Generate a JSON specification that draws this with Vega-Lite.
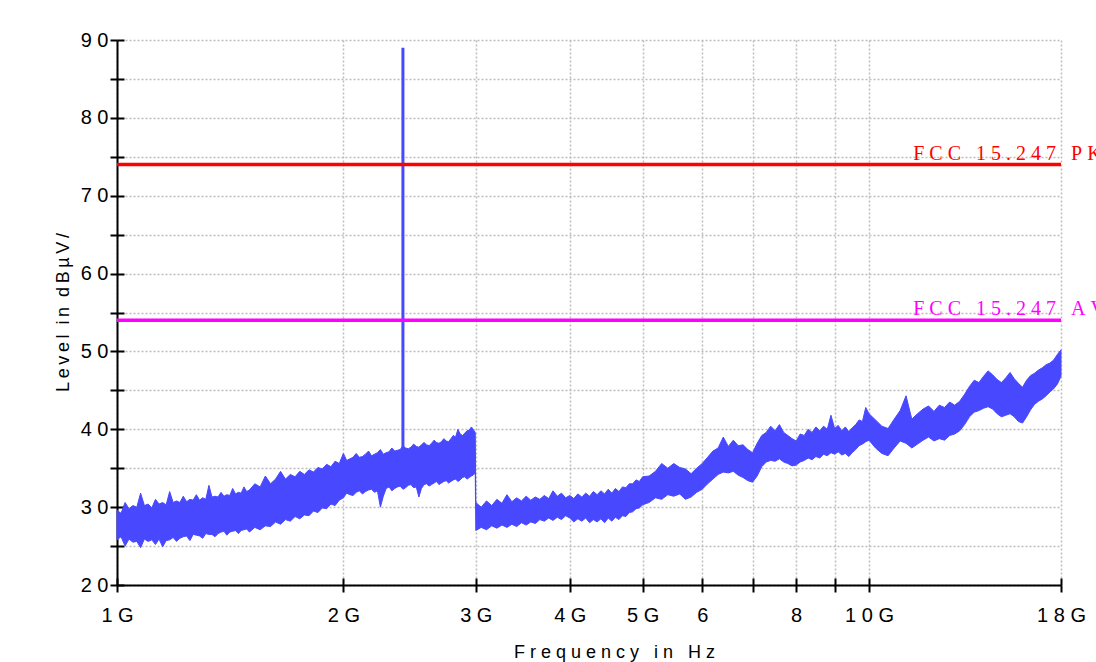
{
  "$schema": "https://vega.github.io/schema/vega-lite/v6.json",
  "width": 944,
  "height": 545,
  "autosize": {"type": "none"},
  "padding": {"left": 117, "top": 40, "right": 35, "bottom": 77},
  "background": "white",
  "config": {"view": {"stroke": null}, "font": "Liberation Sans"},
  "datasets": {
    "trace": [
      {"f":1.000,"lo":25.8,"hi":29.6},{"f":1.0125,"lo":26.2,"hi":29.2},{"f":1.025,"lo":25.0,"hi":30.6},{"f":1.0375,"lo":25.9,"hi":29.8},
      {"f":1.050,"lo":25.5,"hi":30.2},{"f":1.0625,"lo":25.6,"hi":30.0},{"f":1.075,"lo":24.8,"hi":31.8},{"f":1.0875,"lo":25.9,"hi":30.2},
      {"f":1.100,"lo":25.6,"hi":30.4},{"f":1.1125,"lo":25.8,"hi":29.9},{"f":1.125,"lo":25.2,"hi":31.0},{"f":1.1375,"lo":25.9,"hi":30.4},
      {"f":1.150,"lo":24.9,"hi":30.6},{"f":1.1625,"lo":25.7,"hi":30.3},{"f":1.175,"lo":25.8,"hi":32.0},{"f":1.1875,"lo":26.1,"hi":30.6},
      {"f":1.200,"lo":25.6,"hi":30.8},{"f":1.2125,"lo":26.0,"hi":30.6},{"f":1.225,"lo":26.2,"hi":31.4},{"f":1.2375,"lo":26.3,"hi":30.7},
      {"f":1.250,"lo":25.7,"hi":31.0},{"f":1.2625,"lo":26.5,"hi":30.9},{"f":1.275,"lo":26.4,"hi":31.6},{"f":1.2875,"lo":26.3,"hi":30.9},
      {"f":1.300,"lo":26.0,"hi":31.2},{"f":1.3125,"lo":26.6,"hi":31.0},{"f":1.325,"lo":26.5,"hi":32.8},{"f":1.3375,"lo":26.5,"hi":31.3},
      {"f":1.350,"lo":26.2,"hi":31.4},{"f":1.3625,"lo":26.6,"hi":31.3},{"f":1.375,"lo":26.8,"hi":31.9},{"f":1.3875,"lo":26.9,"hi":31.4},
      {"f":1.400,"lo":26.4,"hi":31.6},{"f":1.4125,"lo":26.8,"hi":31.5},{"f":1.425,"lo":26.9,"hi":32.4},{"f":1.4375,"lo":27.0,"hi":31.7},
      {"f":1.450,"lo":26.6,"hi":31.9},{"f":1.4625,"lo":27.0,"hi":31.8},{"f":1.475,"lo":27.1,"hi":32.6},{"f":1.4875,"lo":27.2,"hi":32.0},
      {"f":1.500,"lo":26.8,"hi":32.2},{"f":1.525,"lo":27.4,"hi":33.0},{"f":1.550,"lo":27.1,"hi":32.6},{"f":1.575,"lo":27.6,"hi":34.0},
      {"f":1.600,"lo":27.5,"hi":33.0},{"f":1.625,"lo":28.1,"hi":33.6},{"f":1.650,"lo":27.8,"hi":34.6},{"f":1.675,"lo":28.4,"hi":33.6},
      {"f":1.700,"lo":28.2,"hi":34.2},{"f":1.725,"lo":28.8,"hi":33.9},{"f":1.750,"lo":28.5,"hi":34.6},{"f":1.775,"lo":29.0,"hi":34.2},
      {"f":1.800,"lo":28.9,"hi":34.8},{"f":1.825,"lo":29.5,"hi":34.5},{"f":1.850,"lo":29.3,"hi":35.1},{"f":1.875,"lo":29.9,"hi":34.9},
      {"f":1.900,"lo":29.8,"hi":35.5},{"f":1.925,"lo":30.4,"hi":35.2},{"f":1.950,"lo":30.2,"hi":35.9},{"f":1.975,"lo":30.9,"hi":35.6},
      {"f":2.000,"lo":31.2,"hi":36.9},{"f":2.02,"lo":31.8,"hi":36.0},{"f":2.04,"lo":31.6,"hi":36.2},{"f":2.06,"lo":31.5,"hi":36.4},
      {"f":2.08,"lo":31.9,"hi":36.9},{"f":2.10,"lo":32.1,"hi":36.4},{"f":2.12,"lo":31.7,"hi":36.5},{"f":2.14,"lo":32.0,"hi":36.8},
      {"f":2.16,"lo":32.2,"hi":37.2},{"f":2.18,"lo":32.3,"hi":36.6},{"f":2.20,"lo":31.9,"hi":36.8},{"f":2.22,"lo":32.1,"hi":37.0},
      {"f":2.24,"lo":30.0,"hi":37.4},{"f":2.26,"lo":31.4,"hi":36.8},{"f":2.28,"lo":32.4,"hi":37.0},{"f":2.30,"lo":32.6,"hi":37.1},
      {"f":2.32,"lo":32.1,"hi":37.6},{"f":2.34,"lo":32.4,"hi":37.2},{"f":2.36,"lo":32.6,"hi":37.3},{"f":2.38,"lo":32.7,"hi":37.4},
      {"f":2.40,"lo":32.3,"hi":37.9},{"f":2.42,"lo":32.5,"hi":37.6},{"f":2.44,"lo":32.8,"hi":37.5},{"f":2.46,"lo":32.9,"hi":37.7},
      {"f":2.48,"lo":32.5,"hi":38.1},{"f":2.50,"lo":32.6,"hi":37.8},{"f":2.52,"lo":31.3,"hi":37.7},{"f":2.54,"lo":32.4,"hi":38.0},
      {"f":2.56,"lo":32.9,"hi":38.3},{"f":2.58,"lo":33.0,"hi":38.0},{"f":2.60,"lo":32.7,"hi":37.9},{"f":2.62,"lo":32.9,"hi":38.2},
      {"f":2.64,"lo":33.1,"hi":38.6},{"f":2.66,"lo":33.3,"hi":38.3},{"f":2.68,"lo":32.9,"hi":38.2},{"f":2.70,"lo":33.1,"hi":38.4},
      {"f":2.72,"lo":33.3,"hi":38.8},{"f":2.74,"lo":33.4,"hi":38.5},{"f":2.76,"lo":33.1,"hi":38.4},{"f":2.78,"lo":33.3,"hi":38.8},
      {"f":2.80,"lo":33.5,"hi":39.2},{"f":2.82,"lo":33.6,"hi":39.0},{"f":2.84,"lo":33.3,"hi":40.0},{"f":2.86,"lo":33.5,"hi":39.4},
      {"f":2.88,"lo":33.8,"hi":39.2},{"f":2.90,"lo":33.9,"hi":39.5},{"f":2.92,"lo":33.6,"hi":39.8},{"f":2.94,"lo":33.8,"hi":39.9},
      {"f":2.96,"lo":34.0,"hi":40.3},{"f":2.975,"lo":34.1,"hi":40.0},{"f":2.995,"lo":34.4,"hi":39.6},
      {"f":3.00,"lo":27.0,"hi":30.6},{"f":3.05,"lo":27.4,"hi":30.0},{"f":3.10,"lo":27.1,"hi":30.8},{"f":3.15,"lo":27.6,"hi":30.2},
      {"f":3.20,"lo":27.3,"hi":31.0},{"f":3.25,"lo":27.7,"hi":30.5},{"f":3.30,"lo":27.4,"hi":31.6},{"f":3.35,"lo":27.8,"hi":30.7},
      {"f":3.40,"lo":27.5,"hi":31.2},{"f":3.45,"lo":28.0,"hi":30.8},{"f":3.50,"lo":27.7,"hi":31.4},{"f":3.55,"lo":28.1,"hi":30.9},
      {"f":3.60,"lo":27.9,"hi":31.3},{"f":3.65,"lo":28.4,"hi":31.0},{"f":3.70,"lo":28.2,"hi":31.5},{"f":3.75,"lo":28.6,"hi":31.1},
      {"f":3.80,"lo":28.3,"hi":32.1},{"f":3.85,"lo":28.7,"hi":31.4},{"f":3.90,"lo":28.4,"hi":31.8},{"f":3.95,"lo":28.9,"hi":31.2},
      {"f":4.00,"lo":28.6,"hi":31.5},{"f":4.05,"lo":28.1,"hi":31.1},{"f":4.10,"lo":28.5,"hi":31.7},{"f":4.15,"lo":28.2,"hi":31.3},
      {"f":4.20,"lo":28.6,"hi":31.8},{"f":4.25,"lo":28.0,"hi":31.4},{"f":4.30,"lo":28.4,"hi":32.0},{"f":4.35,"lo":28.1,"hi":31.6},
      {"f":4.40,"lo":28.5,"hi":32.1},{"f":4.45,"lo":28.0,"hi":31.7},{"f":4.50,"lo":28.6,"hi":32.3},{"f":4.55,"lo":28.2,"hi":31.8},
      {"f":4.60,"lo":28.7,"hi":32.4},{"f":4.65,"lo":28.4,"hi":32.0},{"f":4.70,"lo":28.9,"hi":32.6},{"f":4.75,"lo":28.8,"hi":32.5},
      {"f":4.80,"lo":29.3,"hi":33.0},{"f":4.85,"lo":29.4,"hi":33.0},{"f":4.90,"lo":29.8,"hi":33.5},{"f":4.95,"lo":29.9,"hi":33.3},
      {"f":5.0,"lo":30.3,"hi":33.9},{"f":5.1,"lo":30.6,"hi":34.0},{"f":5.2,"lo":31.2,"hi":34.6},{"f":5.3,"lo":31.0,"hi":35.6},
      {"f":5.4,"lo":31.6,"hi":35.0},{"f":5.5,"lo":31.4,"hi":35.6},{"f":5.6,"lo":31.7,"hi":35.1},{"f":5.7,"lo":31.0,"hi":34.9},
      {"f":5.8,"lo":31.3,"hi":34.3},{"f":5.9,"lo":31.9,"hi":35.0},{"f":6.0,"lo":32.3,"hi":35.6},{"f":6.1,"lo":33.0,"hi":36.4},
      {"f":6.2,"lo":33.6,"hi":37.2},{"f":6.3,"lo":34.2,"hi":37.6},{"f":6.4,"lo":34.5,"hi":39.0},{"f":6.5,"lo":34.4,"hi":37.8},
      {"f":6.6,"lo":34.6,"hi":38.6},{"f":6.7,"lo":34.1,"hi":37.9},{"f":6.8,"lo":33.8,"hi":38.0},{"f":6.9,"lo":33.4,"hi":37.4},
      {"f":7.0,"lo":33.2,"hi":37.0},{"f":7.1,"lo":34.0,"hi":38.2},{"f":7.2,"lo":35.2,"hi":39.2},{"f":7.3,"lo":35.8,"hi":39.6},
      {"f":7.4,"lo":36.0,"hi":40.4},{"f":7.5,"lo":35.9,"hi":39.8},{"f":7.6,"lo":36.2,"hi":40.6},{"f":7.7,"lo":35.8,"hi":39.6},
      {"f":7.8,"lo":35.6,"hi":39.2},{"f":7.9,"lo":35.3,"hi":38.8},{"f":8.0,"lo":35.4,"hi":38.5},{"f":8.1,"lo":35.8,"hi":39.4},
      {"f":8.2,"lo":36.0,"hi":39.2},{"f":8.3,"lo":36.3,"hi":40.0},{"f":8.4,"lo":36.1,"hi":39.6},{"f":8.5,"lo":36.5,"hi":40.3},
      {"f":8.6,"lo":36.3,"hi":39.8},{"f":8.7,"lo":36.8,"hi":40.4},{"f":8.8,"lo":36.6,"hi":40.0},{"f":8.9,"lo":37.0,"hi":41.8},
      {"f":9.0,"lo":36.8,"hi":40.1},{"f":9.1,"lo":37.1,"hi":40.5},{"f":9.2,"lo":36.7,"hi":39.8},{"f":9.3,"lo":36.9,"hi":40.3},
      {"f":9.4,"lo":36.5,"hi":39.7},{"f":9.5,"lo":37.0,"hi":40.2},{"f":9.6,"lo":37.4,"hi":40.6},{"f":9.7,"lo":37.9,"hi":41.2},
      {"f":9.8,"lo":38.1,"hi":41.0},{"f":9.9,"lo":38.4,"hi":42.8},{"f":10.0,"lo":38.6,"hi":42.0},
      {"f":10.2,"lo":37.6,"hi":41.2},{"f":10.4,"lo":36.9,"hi":40.4},{"f":10.6,"lo":36.6,"hi":40.1},{"f":10.8,"lo":37.6,"hi":41.3},
      {"f":11.0,"lo":38.5,"hi":42.4},{"f":11.2,"lo":38.2,"hi":44.3},{"f":11.4,"lo":37.6,"hi":41.3},{"f":11.6,"lo":38.1,"hi":42.0},
      {"f":11.8,"lo":38.6,"hi":42.6},{"f":12.0,"lo":39.0,"hi":43.0},{"f":12.2,"lo":38.5,"hi":42.3},{"f":12.4,"lo":38.8,"hi":43.1},
      {"f":12.6,"lo":38.6,"hi":42.8},{"f":12.8,"lo":39.2,"hi":43.5},{"f":13.0,"lo":39.4,"hi":43.1},{"f":13.2,"lo":39.8,"hi":43.6},
      {"f":13.4,"lo":40.6,"hi":44.5},{"f":13.6,"lo":41.6,"hi":45.5},{"f":13.8,"lo":42.2,"hi":46.3},{"f":14.0,"lo":42.4,"hi":46.0},
      {"f":14.2,"lo":42.7,"hi":46.8},{"f":14.4,"lo":42.9,"hi":47.5},{"f":14.6,"lo":42.6,"hi":47.0},{"f":14.8,"lo":42.0,"hi":46.4},
      {"f":15.0,"lo":41.6,"hi":46.0},{"f":15.2,"lo":41.8,"hi":46.6},{"f":15.4,"lo":42.0,"hi":47.3},{"f":15.6,"lo":41.6,"hi":46.5},
      {"f":15.8,"lo":41.0,"hi":45.9},{"f":16.0,"lo":40.8,"hi":45.4},{"f":16.2,"lo":41.6,"hi":46.3},{"f":16.4,"lo":42.5,"hi":46.9},
      {"f":16.6,"lo":43.2,"hi":47.2},{"f":16.8,"lo":43.6,"hi":47.6},{"f":17.0,"lo":43.9,"hi":47.9},{"f":17.2,"lo":44.3,"hi":48.3},
      {"f":17.4,"lo":44.8,"hi":48.5},{"f":17.6,"lo":45.2,"hi":48.9},{"f":17.8,"lo":45.8,"hi":49.6},{"f":18.0,"lo":46.8,"hi":50.2}
    ],
    "spike": [{"f": 2.4, "lo": 37.5, "hi": 89.0}],
    "limits": [{"name": "FCC 15.247 PK", "v": 74}, {"name": "FCC 15.247 AV", "v": 54}]
  },
  "resolve": {"axis": {"x": "independent", "y": "independent"}},
  "layer": [
    {
      "data": {"name": "trace"},
      "mark": {"type": "area", "color": "#4848ff", "stroke": "#4848ff", "strokeWidth": 1, "interpolate": "linear"},
      "encoding": {
        "x": {
          "field": "f", "type": "quantitative",
          "scale": {"type": "log", "domain": [1, 18], "nice": false, "zero": false},
          "axis": {
            "orient": "bottom",
            "values": [1, 2, 3, 4, 5, 6, 7, 8, 9, 10, 18],
            "labelExpr": "datum.value==1?'1\u00a0G':datum.value==2?'2\u00a0G':datum.value==3?'3\u00a0G':datum.value==4?'4\u00a0G':datum.value==5?'5\u00a0G':datum.value==6?'6':datum.value==8?'8':datum.value==10?'1\u00a00\u00a0G':datum.value==18?'1\u00a08\u00a0G':''",
            "tickSize": 7, "tickWidth": 2, "tickColor": "#000000",
            "domainColor": "#000000", "domainWidth": 2,
            "labelFont": "Liberation Sans", "labelFontSize": 20, "labelColor": "#000000",
            "labelPadding": 13, "labelOverlap": false, "labelFlush": false, "labelBound": false,
            "grid": true, "gridDash": [2, 2], "gridColor": "#bdbdbd", "gridWidth": 1.5,
            "title": "F\u00a0r\u00a0e\u00a0q\u00a0u\u00a0e\u00a0n\u00a0c\u00a0y\u00a0\u00a0\u00a0i\u00a0n\u00a0\u00a0\u00a0H\u00a0z",
            "titleFont": "Liberation Sans", "titleFontSize": 18, "titleFontWeight": "normal", "titleColor": "#000000",
            "titleX": 497, "titleY": 72, "titleBaseline": "alphabetic", "titleAlign": "center"
          }
        },
        "y": {
          "field": "lo", "type": "quantitative",
          "scale": {"domain": [20, 90], "nice": false, "zero": false},
          "axis": {
            "orient": "left",
            "values": [20, 25, 30, 35, 40, 45, 50, 55, 60, 65, 70, 75, 80, 85, 90],
            "labelExpr": "datum.value % 10 == 0 ? floor(datum.value / 10) + '\u00a00' : ''",
            "tickSize": 7, "tickWidth": 2, "tickColor": "#000000",
            "domainColor": "#000000", "domainWidth": 2,
            "labelFont": "Liberation Sans", "labelFontSize": 20, "labelColor": "#000000",
            "labelPadding": 2, "labelOverlap": false, "labelFlush": false, "labelBound": false,
            "grid": true, "gridDash": [2, 2], "gridColor": "#bdbdbd", "gridWidth": 1.5,
            "title": "L\u2009e\u2009v\u2009e\u2009l\u00a0\u00a0i\u2009n\u00a0\u00a0d\u2009B\u2009\u00b5\u2009V\u2009/",
            "titleFont": "Liberation Sans", "titleFontSize": 18, "titleFontWeight": "normal", "titleColor": "#000000",
            "titleAngle": 270, "titleX": -49, "titleY": 272, "titleBaseline": "alphabetic", "titleAlign": "center"
          }
        },
        "y2": {"field": "hi"}
      }
    },
    {
      "data": {"name": "spike"},
      "mark": {"type": "rule", "color": "#4848ff", "strokeWidth": 3},
      "encoding": {
        "x": {
          "field": "f", "type": "quantitative",
          "axis": {
            "orient": "bottom", "values": [1, 2, 3, 4, 5, 6, 7, 8, 9, 10, 18],
            "tickSize": -7, "tickWidth": 2, "tickColor": "#000000",
            "labels": false, "domain": false, "grid": false, "title": null
          }
        },
        "y": {
          "field": "lo", "type": "quantitative",
          "axis": {
            "orient": "left", "values": [20, 25, 30, 35, 40, 45, 50, 55, 60, 65, 70, 75, 80, 85, 90],
            "tickSize": -7, "tickWidth": 2, "tickColor": "#000000",
            "labels": false, "domain": false, "grid": false, "title": null
          }
        },
        "y2": {"field": "hi"}
      }
    },
    {
      "data": {"name": "limits"},
      "mark": {"type": "rule", "strokeWidth": 3.5},
      "encoding": {
        "y": {"field": "v", "type": "quantitative", "axis": null},
        "color": {
          "field": "name", "type": "nominal",
          "scale": {"domain": ["FCC 15.247 PK", "FCC 15.247 AV"], "range": ["#ff0000", "#ff00ff"]},
          "legend": null
        }
      }
    },
    {
      "data": {"name": "limits"},
      "transform": [{"calculate": "replace(replace(datum.name, regexp('(.)(?!$)', 'g'), '$1\u00a0'), regexp(' ', 'g'), '\u00a0')", "as": "spaced"}],
      "mark": {"type": "text", "align": "left", "baseline": "alphabetic", "dy": -5, "font": "Liberation Serif", "fontSize": 20},
      "encoding": {
        "x": {"datum": 11.45, "type": "quantitative", "axis": null},
        "y": {"field": "v", "type": "quantitative", "axis": null},
        "text": {"field": "spaced"},
        "color": {"field": "name", "type": "nominal", "legend": null}
      }
    }
  ]
}
